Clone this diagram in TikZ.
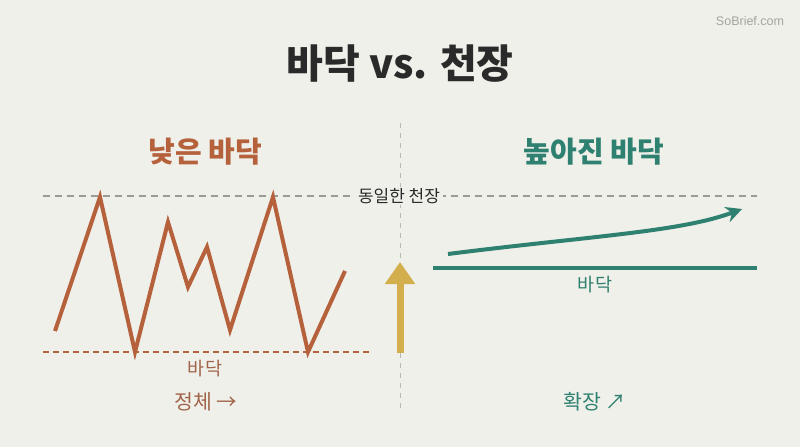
\documentclass[tikz,border=0pt]{standalone}
\usepackage{fontspec}
\setmainfont{Noto Sans CJK KR}
\newfontfamily\kr{Noto Sans CJK KR}
\newfontfamily\wm{Liberation Sans}
\usetikzlibrary{arrows.meta}
\definecolor{bg}{HTML}{F0F0EA}
\definecolor{brn}{HTML}{B5613C}
\definecolor{brnl}{HTML}{A0644A}
\definecolor{teal}{HTML}{2E8070}
\definecolor{gold}{HTML}{D3AE4C}
\definecolor{ink}{HTML}{2A2A2A}
\definecolor{gry}{HTML}{9A9A96}
\begin{document}
\begin{tikzpicture}[x=1pt,y=-1pt,
  lbl/.style={inner sep=1pt, font=\kr\fontsize{18.5}{20}\selectfont},
  head/.style={font=\kr\bfseries\fontsize{29}{32}\selectfont},
  foot/.style={font=\kr\fontsize{20.5}{22}\selectfont}]
\fill[bg] (0,0) rectangle (800,447);
\useasboundingbox (0,0) rectangle (800,447);
% watermark
\node[font=\wm\fontsize{12.5}{14}\selectfont, text=gry!90] (wm) at (750,21) {SoBrief.com};
% title
\node[font=\kr\bfseries\fontsize{40}{44}\selectfont, text=ink] (title) at (400,64) {바닥 vs. 천장};
% divider
\draw[gry!70, line width=1pt, dash pattern=on 5pt off 5pt] (400,123) -- (400,410);
% ceiling
\draw[gry, line width=1.6pt, dash pattern=on 7pt off 5pt] (43,196) -- (757,196);
\node[lbl, fill=bg, text=ink, font=\kr\fontsize{17}{19}\selectfont, inner xsep=3pt] (ceil) at (399,196) {동일한 천장};
% left
\node[head, text=brn] (lh) at (205,152) {낮은 바닥};
\draw[brn, line width=1.8pt, dash pattern=on 6pt off 4pt] (43,352) -- (370,352);
\draw[brn, line width=4pt, line join=miter] (55,331) -- (100,197) -- (135,352) -- (168,222) -- (188,287) -- (207,247) -- (230,330) -- (273,197) -- (308,352) -- (345,271);
\node[lbl, text=brnl] (lf) at (205,369) {바닥};
\node[foot, text=brnl] (ls) at (206,402) {정체 →};
% gold arrow
\coordinate (ga) at (400,353);
\coordinate (gb) at (400,262);
\draw[gold, line width=7pt, -{Triangle[length=22pt,width=29pt]}] (ga) -- (gb);
% right
\node[head, text=teal] (rh) at (594,152) {높아진 바닥};
\draw[teal, line width=4pt] (433,268) -- (757,268);
\coordinate (ta) at (448,254);
\coordinate (tb) at (742,209);
\draw[teal, line width=4pt, -{Stealth[length=16pt,width=16pt]}] (ta) .. controls (590,236) and (680,232) .. (tb);
\node[lbl, text=teal] (rf) at (595,285) {바닥};
\node[foot, text=teal] (rs) at (595,402) {확장 ↗};
\end{tikzpicture}
\end{document}
